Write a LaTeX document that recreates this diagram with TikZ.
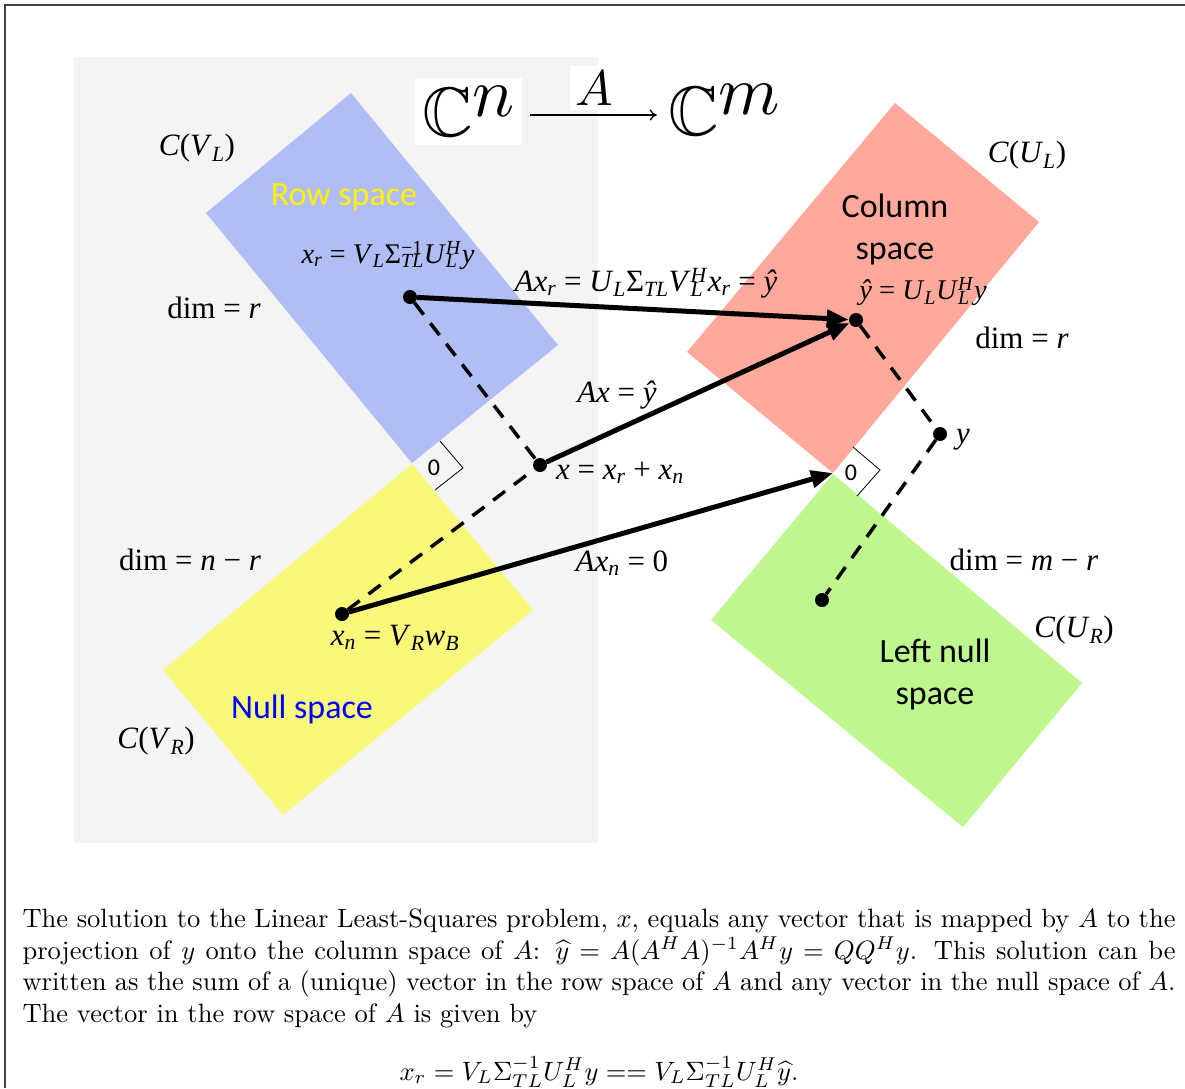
\documentclass[tikz,border=0pt]{standalone}
\usepackage{amsmath,amssymb}
\usepackage{graphicx}
\usepackage{fontspec}
\usepackage{tikz}
\usetikzlibrary{arrows.meta}
\newfontfamily\tnr{Liberation Serif}
\newfontfamily\calib{Carlito}
\definecolor{rowblue}{HTML}{B0BEF5}
\definecolor{nullyellow}{HTML}{F8F87A}
\definecolor{colred}{HTML}{FFA99C}
\definecolor{leftgreen}{HTML}{BFF78F}
\definecolor{domgray}{HTML}{F4F4F4}
\definecolor{framegray}{HTML}{444444}
\newcommand{\tvar}[1]{\textit{#1}}
\newcommand{\tsub}[1]{\textsubscript{\textit{#1}}}
\newcommand{\tsupsub}[2]{\ooalign{\textsuperscript{#1}\cr\textsubscript{\textit{#2}}\cr}}
\tikzset{
  ptnode/.style={circle,fill=black,inner sep=0pt,minimum size=14pt},
  eqlab/.style={font=\tnr\fontsize{31}{34}\selectfont,inner sep=0pt},
  eqsmall/.style={font=\tnr\fontsize{28.5}{30}\selectfont,inner sep=0pt},
  spacelab/.style={font=\calib\fontsize{34}{42}\selectfont,inner sep=0pt,align=center},
  zerolab/.style={font=\calib\fontsize{24}{28}\selectfont,inner sep=0pt},
  maparrow/.style={-{Triangle[length=22pt,width=17pt]},line width=5pt},
  projline/.style={line width=3.5pt,dash pattern=on 15pt off 11pt},
  rightang/.style={line width=0.8pt},
  cdarrow/.style={-{To[length=7pt,width=11pt]},line width=1.3pt},
}

\begin{document}
\begin{tikzpicture}[x=1pt,y=-1pt]
  \useasboundingbox (0,0) rectangle (1185,1088);
  \draw[framegray,line width=1.5pt] (5,1088) -- (5,5) -- (1185,5);
  % domain
  \fill[domgray] (74,57) rectangle (598,843);
  % the four subspaces
  \fill[rowblue] (351,93) -- (558,345) -- (412,463) -- (206,213) -- cycle;
  \fill[nullyellow] (412,464) -- (533,610) -- (283,815) -- (163,670) -- cycle;
  \fill[colred] (895,103) -- (1039,222) -- (833,473) -- (687,352) -- cycle;
  \fill[leftgreen] (833,474) -- (1082,683) -- (963,827) -- (711,620) -- cycle;
  \draw[rightang] (440,441) -- (463,468) -- (435,490);
  \draw[rightang] (853,447) -- (880,470) -- (857,496);
  \node[zerolab] (nZeroL) at (434,468) {0};
  \node[zerolab] (nZeroR) at (851,473) {0};

  % the mapping
  \node[fill=white,inner sep=0pt,minimum width=107pt,minimum height=67pt] (nCn) at (468.5,111.5)
    {\scalebox{7}{$\mathbb{C}$\raisebox{2.9pt}{$n$}}};
  \node[inner sep=0pt] (nCm) at (724,110) {\scalebox{7}{$\mathbb{C}$\raisebox{2.9pt}{$m$}}};
  \node[fill=white,inner sep=5pt] (nA) at (594,88) {\scalebox{5}{$A$}};
  \draw[cdarrow] ([shift={(8,3.5)}]nCn.east) -- ([shift={(-11,5)}]nCm.west);

  \node[spacelab,text=yellow] (nRow) at (344,197) {Row space};
  \node[spacelab] (nCol) at (895,229) {Column\\space};
  \node[spacelab,text=blue] (nNull) at (302,709) {Null space};
  \node[spacelab] (nLeft) at (935,674) {Left null\\space};

  \node[eqlab] (nCVL) at (197,148) {\tvar{C}(\tvar{V}\tsub{L})};
  \node[eqlab] (nCUL) at (1027,155) {\tvar{C}(\tvar{U}\tsub{L})};
  \node[eqlab] (nCUR) at (1074,630) {\tvar{C}(\tvar{U}\tsub{R})};
  \node[eqlab] (nCVR) at (156,741) {\tvar{C}(\tvar{V}\tsub{R})};
  \node[eqlab] (nDimR) at (214,308) {dim = \tvar{r}};
  \node[eqlab] (nDimRb) at (1022,338) {dim = \tvar{r}};
  \node[eqlab] (nDimN) at (190,560) {dim = \tvar{n} − \tvar{r}};
  \node[eqlab] (nDimM) at (1024,560) {dim = \tvar{m} − \tvar{r}};

  \node[eqsmall] (lXr) at (388,255)
    {\tvar{x}\tsub{r} = \tvar{V}\tsub{L}Σ\tsupsub{−1}{TL}\tvar{U}\tsupsub{\textit{H}}{L}\tvar{y}};
  \node[eqlab] (lAXr) at (646,283)
    {\tvar{Ax}\tsub{r} = \tvar{U}\tsub{L}Σ\tsub{TL}\tvar{V}\tsupsub{\textit{H}}{L}\tvar{x}\tsub{r} = \tvar{ŷ}};
  \node[eqsmall] (lYhat) at (923,292) {\tvar{ŷ} = \tvar{U}\tsub{L}\tvar{U}\tsupsub{\textit{H}}{L}\tvar{y}};
  \node[eqlab] (lAX) at (617,395) {\tvar{Ax} = \tvar{ŷ}};
  \node[eqlab] (lX) at (620,473) {\tvar{x} = \tvar{x}\tsub{r} + \tvar{x}\tsub{n}};
  \node[eqlab] (lAXn) at (622,563) {\tvar{Ax}\tsub{n} = 0};
  \node[eqlab] (lY) at (963,440) {\tvar{y}};
  \node[eqlab] (lXn) at (395,638) {\tvar{x}\tsub{n} = \tvar{V}\tsub{R}\tvar{w}\tsub{B}};

  % vectors
  \node[ptnode] (nXr) at (410,297) {};
  \node[ptnode] (nYhat) at (856,320) {};
  \node[ptnode] (nX) at (540,465) {};
  \node[ptnode] (nY) at (940,434) {};
  \node[ptnode] (nXn) at (342,614) {};
  \node[ptnode] (nLn) at (822,600) {};
  \coordinate (nOrig) at (833,473);
  \draw[projline] (nXr) -- (nX);
  \draw[projline] (nXn) -- (nX);
  \draw[projline] (nYhat) -- (nY);
  \draw[projline] (nY) -- (nLn);
  \draw[maparrow] (nXr) -- (nYhat);
  \draw[maparrow] (nX) -- (nYhat);
  \draw[maparrow] (nXn) -- (nOrig);

  % caption text
  \node[anchor=north west,inner sep=0pt,scale=2.65,text width=435.1pt,align=justify,
        font=\fontsize{10}{12}\selectfont] (nText) at (22,908)
    {The solution to the Linear Least-Squares problem, $x$, equals any vector that is mapped by $A$ to the\linebreak
     projection of $y$ onto the column space of $A$: $\widehat{y} = A(A^HA)^{-1}A^Hy = QQ^Hy$. This solution can be\linebreak
     written as the sum of a (unique) vector in the row space of $A$ and any vector in the null space of $A$.\linebreak
     The vector in the row space of $A$ is given by};
  \node[anchor=base,inner sep=0pt,scale=2.65] (nEq) at (599,1080)
    {$x_r = V_L\Sigma_{TL}^{-1}U_L^Hy == V_L\Sigma_{TL}^{-1}U_L^H\widehat{y}.$};
\end{tikzpicture}
\end{document}
